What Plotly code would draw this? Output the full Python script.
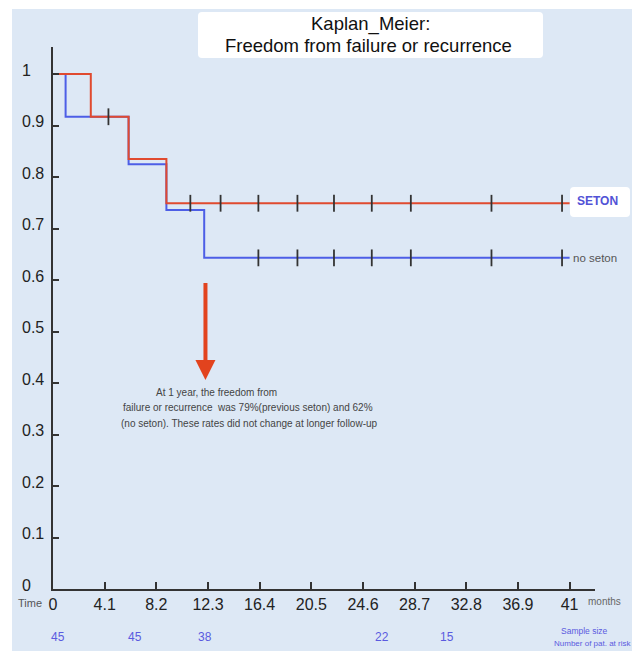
import plotly.graph_objects as go

# ---------------- data ----------------
seton_t = [0, 3.0, 6.0, 9.0, 41]
seton_s = [1.0, 0.917, 0.835, 0.749, 0.749]
seton_cens = [4.4, 10.9, 13.3, 16.3, 19.4, 22.3, 25.3, 28.4, 34.8, 40.4]

noseton_t = [0, 1.0, 6.0, 9.0, 12.0, 41]
noseton_s = [1.0, 0.917, 0.825, 0.736, 0.643, 0.643]
noseton_cens = [16.3, 19.4, 22.3, 25.3, 28.4, 34.8, 40.4]

x_ticks = [0, 4.1, 8.2, 12.3, 16.4, 20.5, 24.6, 28.7, 32.8, 36.9, 41]
x_tick_labels = ["0", "4.1", "8.2", "12.3", "16.4", "20.5", "24.6", "28.7", "32.8", "36.9", "41"]
y_ticks = [0, 0.1, 0.2, 0.3, 0.4, 0.5, 0.6, 0.7, 0.8, 0.9, 1]
y_tick_labels = ["0", "0.1", "0.2", "0.3", "0.4", "0.5", "0.6", "0.7", "0.8", "0.9", "1"]

risk_time = [0.4, 6.5, 12.1, 26.1, 31.3]
risk_n = ["45", "45", "38", "22", "15"]

note_lines = [
    "At 1 year, the freedom from",
    "failure or recurrence  was 79%(previous seton) and 62%",
    "(no seton). These rates did not change at longer follow-up",
]

# ---------------- layout geometry ----------------
W, H = 634, 651
L, R, T, B = 53, 39, 47, 62
PW, PH = W - L - R, H - T - B

BG = "#dde8f5"
RED = "#e04a2f"
BLUE = "#4d5ee6"
ARROW = "#e2431e"
FONT = "Liberation Sans, Arial, sans-serif"


def px(x):
    return (x - L) / PW


def py(y):
    return (H - B - y) / PH


def step_value(ts, ss, t):
    v = ss[0]
    for ti, si in zip(ts, ss):
        if t >= ti:
            v = si
    return v


def rrect(x0, y0, x1, y1, r=4):
    X0, X1 = px(x0), px(x1)
    Y0, Y1 = py(y1), py(y0)
    rx, ry = r / PW, r / PH
    return (f"M{X0+rx},{Y0} L{X1-rx},{Y0} Q{X1},{Y0} {X1},{Y0+ry} "
            f"L{X1},{Y1-ry} Q{X1},{Y1} {X1-rx},{Y1} L{X0+rx},{Y1} "
            f"Q{X0},{Y1} {X0},{Y1-ry} L{X0},{Y0+ry} Q{X0},{Y0} {X0+rx},{Y0} Z")


fig = go.Figure()

fig.add_trace(go.Scatter(x=noseton_t, y=noseton_s, mode="lines", line_shape="hv",
                         line=dict(color=BLUE, width=2), hoverinfo="skip", showlegend=False))
fig.add_trace(go.Scatter(x=seton_t, y=seton_s, mode="lines", line_shape="hv",
                         line=dict(color=RED, width=2), hoverinfo="skip", showlegend=False))

fig.add_trace(go.Scatter(
    x=seton_cens, y=[step_value(seton_t, seton_s, t) for t in seton_cens],
    mode="markers", marker=dict(symbol="line-ns", size=12, line=dict(color="#333333", width=1.8)),
    hoverinfo="skip", showlegend=False))
fig.add_trace(go.Scatter(
    x=noseton_cens, y=[step_value(noseton_t, noseton_s, t) for t in noseton_cens],
    mode="markers", marker=dict(symbol="line-ns", size=12, line=dict(color="#333333", width=1.8)),
    hoverinfo="skip", showlegend=False))

shapes = [
    # white outer margins
    dict(type="rect", xref="paper", yref="paper", x0=px(0), x1=px(W), y0=py(9), y1=py(0),
         fillcolor="white", line_width=0, layer="below"),
    dict(type="rect", xref="paper", yref="paper", x0=px(0), x1=px(12), y0=py(H), y1=py(0),
         fillcolor="white", line_width=0, layer="below"),
    dict(type="rect", xref="paper", yref="paper", x0=px(632), x1=px(W), y0=py(H), y1=py(0),
         fillcolor="white", line_width=0, layer="below"),
    # title box
    dict(type="path", xref="paper", yref="paper", path=rrect(198, 12, 543, 58),
         fillcolor="white", line_width=0, layer="below"),
    # SETON box
    dict(type="path", xref="paper", yref="paper", path=rrect(570, 187, 630, 217),
         fillcolor="white", line_width=0, layer="below"),
]

ann = []


def label(x, y, text, size, color, xanchor="center", **kw):
    d = dict(x=x, y=y, text=text, showarrow=False, xanchor=xanchor, yanchor="middle",
             font=dict(family=FONT, size=size, color=color))
    d.setdefault("xref", "paper")
    d.setdefault("yref", "paper")
    d.update(kw)
    ann.append(d)


# title
label(px(370), py(24), "Kaplan_Meier:", 18.5, "#111111")
label(px(368), py(45), "Freedom from failure or recurrence", 18.5, "#111111")
# y tick labels
for v, lab in zip(y_ticks, y_tick_labels):
    label(px(20), v, lab, 16, "#222222", xanchor="left", yref="y", yshift=4)
# axis words
label(px(16), py(603), "Time", 11, "#555555", xanchor="left")
label(px(586), py(601), "months", 10, "#666666", xanchor="left")
# numbers at risk
for t, n in zip(risk_time, risk_n):
    label(t, py(637), n, 12, "#5a5ae0", xref="x")
label(px(584), py(631), "Sample size", 8.5, "#5a5ae0")
label(px(592), py(643), "Number of pat. at risk", 8, "#5a5ae0")
# curve labels
label(px(597), py(201), "<b>SETON</b>", 12, "#5252d6")
label(41, noseton_s[-1], "no seton", 11.5, "#555555", xanchor="left", xref="x", yref="y", xshift=1)
# arrow
ann.append(dict(xref="x", yref="y", x=12.1, y=0.406, axref="x", ayref="y", ax=12.1, ay=0.597,
                text="", showarrow=True, arrowhead=2, arrowsize=1, arrowwidth=4, arrowcolor=ARROW))
# note text
note_x = [13.0, 15.5, 15.6]
note_y = [0.381, 0.352, 0.321]
for xx, yy, line in zip(note_x, note_y, note_lines):
    label(xx, yy, line, 10, "#444444", xref="x", yref="y")

fig.update_layout(
    width=W, height=H,
    margin=dict(l=L, r=R, t=T, b=B, pad=0),
    paper_bgcolor=BG, plot_bgcolor=BG,
    shapes=shapes, annotations=ann,
    font=dict(family=FONT),
    xaxis=dict(range=[0, PW / 12.6], tickvals=x_ticks, ticktext=x_tick_labels,
               showgrid=False, zeroline=False, showline=True, linecolor="#333333", linewidth=2,
               ticks="inside", ticklen=7, tickwidth=1.5, tickcolor="#333333",
               tickfont=dict(family=FONT, size=16, color="#222222"), fixedrange=True),
    yaxis=dict(range=[0, 1 + 27 / 515], tickvals=y_ticks, showticklabels=False,
               showgrid=False, zeroline=False, showline=True, linecolor="#333333", linewidth=2,
               ticks="inside", ticklen=6, tickwidth=1.5, tickcolor="#333333", fixedrange=True),
)

fig.write_html(
    "out.html",
    config={"displayModeBar": False},
    post_script="document.body.style.margin='0';document.body.style.overflow='hidden';",
)
